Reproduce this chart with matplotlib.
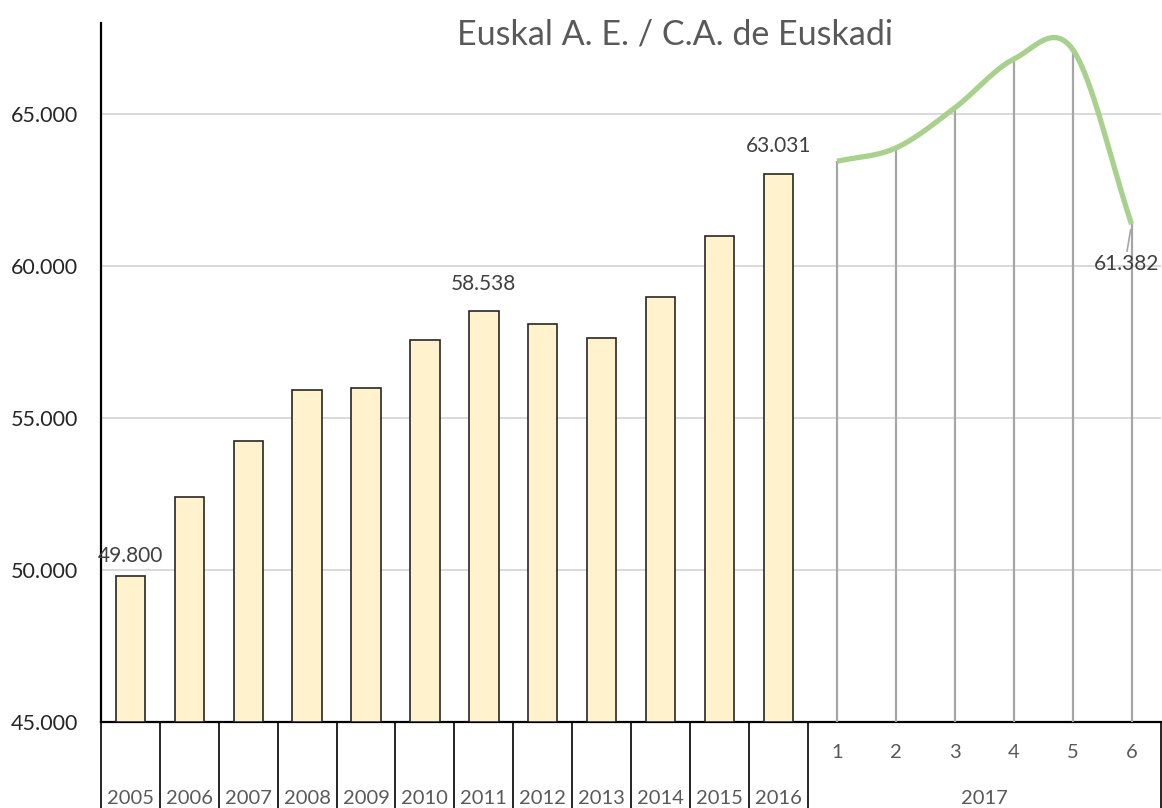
import numpy as np
import matplotlib
matplotlib.use("Agg")
import matplotlib.pyplot as plt
import matplotlib.transforms as mtransforms

plt.rcParams['font.family'] = ['Lato', 'DejaVu Sans']

# data
years = ['2005', '2006', '2007', '2008', '2009', '2010', '2011', '2012',
         '2013', '2014', '2015', '2016']
year_values = [49800, 52400, 54230, 55920, 55990, 57560, 58538, 58080,
               57640, 58990, 60985, 63031]
months = ['1', '2', '3', '4', '5', '6']
month_values = [63450, 63890, 65210, 66810, 67130, 61382]
group_label = '2017'
labelled_years = ['2005', '2011', '2016']
title = 'Euskal A. E. / C.A. de Euskadi'


def catmull_rom(xs, ys, n=40):
    # smooth line through the points (like the spreadsheet "smoothed line")
    xs = np.asarray(xs, float)
    ys = np.asarray(ys, float)
    px = np.concatenate([[2 * xs[0] - xs[1]], xs, [2 * xs[-1] - xs[-2]]])
    py = np.concatenate([[ys[0]], ys, [ys[-1]]])
    outx, outy = [], []
    for i in range(1, len(px) - 2):
        t = np.linspace(0, 1, n)
        x0, x1, x2, x3 = px[i - 1:i + 3]
        y0, y1, y2, y3 = py[i - 1:i + 3]
        if i == 1:
            y0 = y1 - (y2 - y1)
        if i == len(px) - 3:
            y3 = y2 + (y2 - y1)
        m1x, m2x = (x2 - x0) / 2, (x3 - x1) / 2
        m1y, m2y = (y2 - y0) / 2, (y3 - y1) / 2
        h00 = 2 * t**3 - 3 * t**2 + 1
        h10 = t**3 - 2 * t**2 + t
        h01 = -2 * t**3 + 3 * t**2
        h11 = t**3 - t**2
        outx.append(h00 * x1 + h10 * m1x + h01 * x2 + h11 * m2x)
        outy.append(h00 * y1 + h10 * m1y + h01 * y2 + h11 * m2y)
    return np.concatenate(outx), np.concatenate(outy)


fig = plt.figure(figsize=(11.62, 8.08), dpi=100)
ax = fig.add_axes([101 / 1162, 86 / 808, 1060 / 1162, 699 / 808])

xb = np.arange(len(years))
xm = np.arange(len(months)) + len(years)

ax.set_ylim(45000, 68000)
ax.set_xlim(-0.5, len(years) + len(months) - 0.5)
ax.set_yticks([45000, 50000, 55000, 60000, 65000])
ax.set_yticklabels(['{:,}'.format(v).replace(',', '.') for v in ax.get_yticks().astype(int)])
ax.tick_params(axis='y', length=0, labelsize=15.5, labelcolor='#262626', pad=16.5)
ax.set_xticks([])
ax.grid(axis='y', color='#d9d9d9', lw=1.4)
ax.set_axisbelow(True)
for s in ['top', 'right']:
    ax.spines[s].set_visible(False)
ax.spines['left'].set_linewidth(1.6)
ax.spines['bottom'].set_linewidth(1.6)

ax.bar(xb, np.array(year_values) - 45000, bottom=45000, width=0.5,
       color='#fff2cc', edgecolor='#262626', lw=1.2, zorder=3)

# drop lines and smooth line for the months
ax.vlines(xm, 45000, month_values, color='#a6a6a6', lw=1.6, zorder=3)
sx, sy = catmull_rom(xm, month_values)
ax.plot(sx, sy, color='#a9d18e', lw=3.8, solid_capstyle='butt', zorder=4)

# data labels
label_gap = {'2005': 10, '2011': 17, '2016': 18}
for y, v in zip(years, year_values):
    if y in labelled_years:
        i = years.index(y)
        ax.annotate('{:,}'.format(v).replace(',', '.'), (i, v),
                    xytext=(0, label_gap[y]), textcoords='offset pixels',
                    ha='center', va='bottom', fontsize=15, color='#404040')
ax.annotate('{:,}'.format(month_values[-1]).replace(',', '.'),
            (xm[-1], month_values[-1]), xytext=(-5, -40),
            textcoords='offset pixels', ha='center', va='center',
            fontsize=15, color='#404040',
            arrowprops=dict(arrowstyle='-', color='#a6a6a6', lw=1.2,
                            shrinkA=0, shrinkB=4, relpos=(0.5, 1.0)))

# category axis drawn as a table below the plot
trans = mtransforms.blended_transform_factory(ax.transData, ax.transAxes)
seps = list(np.arange(len(years)) - 0.5) + [len(years) - 0.5, len(years) + len(months) - 0.5]
for s in seps:
    ax.plot([s, s], [0, -0.2], color='#262626', lw=1.4, transform=trans, clip_on=False)
for i, m in zip(xm, months):
    ax.text(i, -31 / 699, m, transform=trans, ha='center', va='center',
            fontsize=14.5, color='#595959')
for i, y in zip(xb, years):
    ax.text(i, -68 / 699, y, transform=trans, ha='center', va='top',
            fontsize=14.5, color='#595959')
ax.text(np.mean(xm), -68 / 699, group_label, transform=trans, ha='center',
        va='top', fontsize=14.5, color='#595959')

fig.text(675 / 1162, 1 - 35 / 808, title, ha='center', va='center',
         fontsize=24.5, color='#595959')

fig.savefig('out.png', dpi=100)
